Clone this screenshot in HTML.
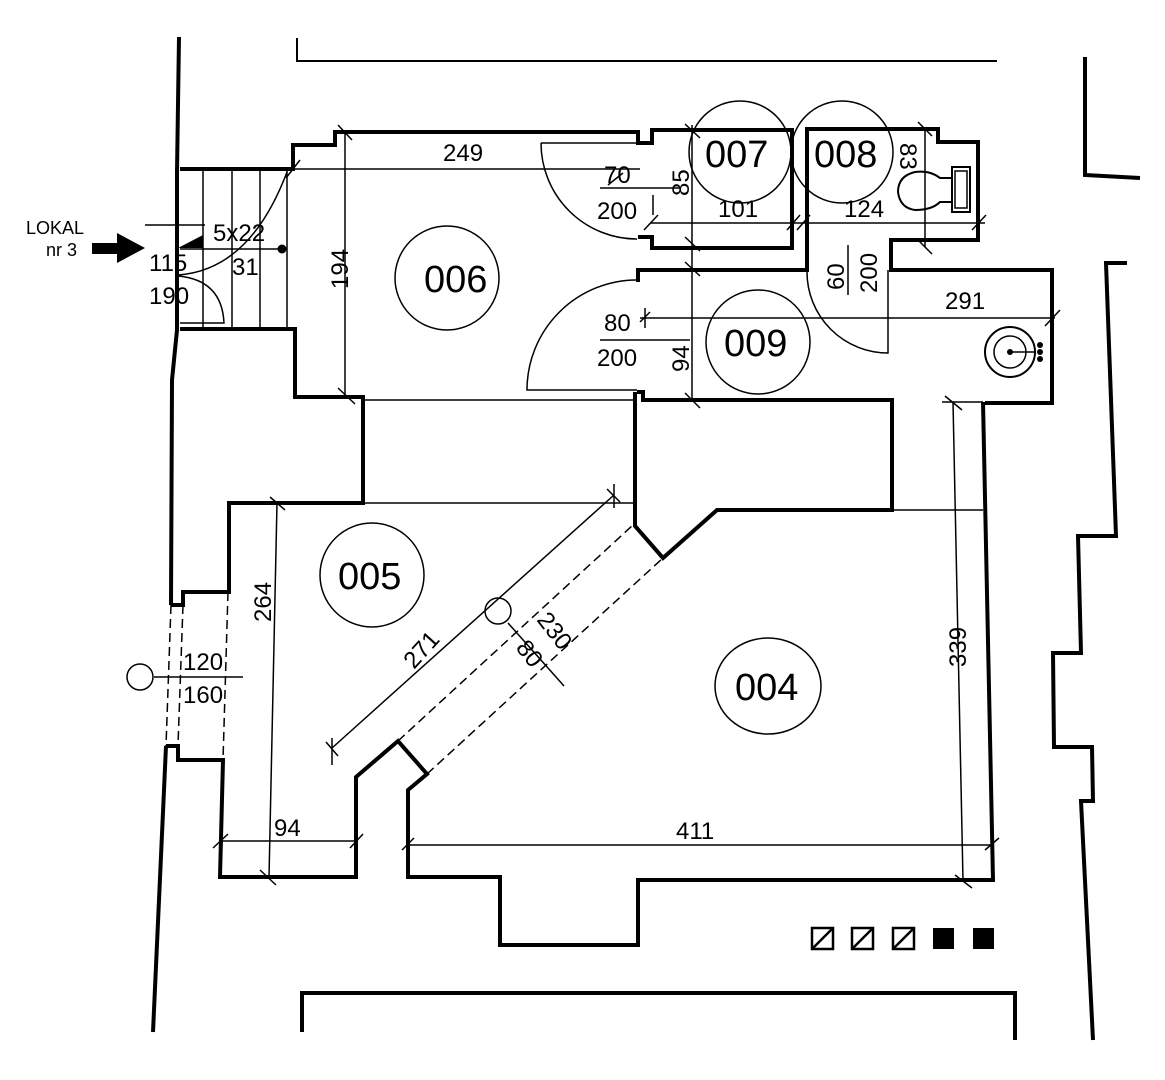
<!DOCTYPE html>
<html><head><meta charset="utf-8"><style>
html,body{margin:0;padding:0;background:#fff;}
svg{display:block;}
text{font-family:"Liberation Sans",sans-serif;fill:#000;}
</style></head><body>
<svg width="1165" height="1080" viewBox="0 0 1165 1080" xmlns="http://www.w3.org/2000/svg">
<g fill="none" stroke="#000" stroke-width="4" stroke-linejoin="miter">
<path d="M179,37 L177,172 L177,330 L172,380 L171,605"/>
<path d="M166,746 L153,1032"/>
<path d="M297,38 V61 H997" stroke-width="2"/>
<path d="M1085,57 V175 L1140,178"/>
<path d="M1127,263 H1106 L1116,536 H1078 L1081,653 H1053 L1054,747 H1092 L1093,801 H1081 L1093,1040"/>
<path d="M302,1032 V993 H1015 V1040"/>
<path d="M180,169 H293 V145 H335 V132 H638 V143 H652 V130 H792 V248 H652 V237 H638"/>
<path d="M180,329 H295 V397 H363 V503 H229 V592 H183 V605 H171"/>
<path d="M638,282 V270 H807 V129 H938 V142 H978 V240 H891 V270 H1052 V403 H985"/>
<path d="M637,392 H643 V400 H892 V510 H717 L663,558 L635,526 V392"/>
<path d="M166,746 H178 V760 H223 L220,877 H356 V777 L398,741 L427,774 L408,790 V877 H500 V945 H638 V880 H993 L983,402"/>
</g>
<g fill="none" stroke="#000" stroke-width="1.5">
<path d="M203,169 V329 M232,169 V329 M260,169 V329 M287,169 V329"/>
<path d="M180,249 H285"/>
<path d="M145,225 H205"/>
<path d="M287,172 Q250,270 178,275"/>
<path d="M178,276 Q222,280 224,323 H180"/>
<path d="M290,169 H640"/>
<path d="M345,130 V397"/>
<path d="M286,178 L300,160 M338,125 L352,140 M338,388 L355,404"/>
<path d="M363,400 H637 M363,503 H637"/>
<path d="M541,143 A96,96 0 0 0 637,239"/>
<path d="M541,143 H637"/>
<path d="M637,280 A110,110 0 0 0 527,390 H637"/>
<path d="M807,272 A81,81 0 0 0 888,353 V270"/>
<path d="M692,125 V400"/>
<path d="M685,124 L700,138 M685,237 L700,251 M685,262 L700,276 M685,393 L700,408"/>
<path d="M650,223 H985"/>
<path d="M644,230 L658,215 M787,230 L800,215 M797,230 L810,215 M972,230 L986,215"/>
<path d="M653,195 V215"/>
<path d="M925,127 V247 M918,122 L932,136 M918,240 L932,254"/>
<path d="M600,188 H680 M600,340 H690 M645,308 V328 M640,322 L650,312 M608,185 L623,173"/>
<path d="M640,318 H1055 M1045,326 L1060,310"/>
<path d="M848,245 V295"/>
<path d="M942,402 H983"/>
<path d="M953,402 L963,880"/>
<path d="M945,396 L962,410 M955,875 L972,888"/>
<path d="M408,845 H993 M402,850 L414,838 M985,850 L999,838"/>
<path d="M277,503 L269,877 M270,497 L285,510 M260,870 L276,885"/>
<path d="M220,841 H356 M213,848 L228,834 M350,848 L363,834"/>
<path d="M893,510 H983"/>
<path d="M332,748 L614,495"/>
<path d="M326,742 L338,756 M332,738 V765 M607,489 L620,502 M614,484 V508"/>
<path d="M508,623 L564,686"/>
<circle cx="498" cy="611" r="13"/>
<path d="M154,677 H243"/>
<circle cx="140" cy="677" r="13"/>
<circle cx="447" cy="278" r="52"/>
<circle cx="740" cy="152" r="51"/>
<circle cx="842" cy="152" r="51"/>
<circle cx="758" cy="342" r="52"/>
<circle cx="372" cy="575" r="52"/>
<ellipse cx="768" cy="686" rx="53" ry="48"/>
<rect x="952" y="167" width="18" height="45" stroke-width="2"/>
<rect x="955" y="171" width="12" height="37"/>
<path d="M952,178 L940,178 Q930,170 915,172 Q898,176 898,192 Q900,208 915,210 Q932,210 940,202 L952,202" stroke-width="2"/>
<circle cx="1010" cy="352" r="25" stroke-width="2"/>
<circle cx="1010" cy="352" r="16"/>
<path d="M1010,352 H1035"/>
</g>
<g fill="none" stroke="#000" stroke-width="1.5" stroke-dasharray="9,5">
<path d="M171,605 L166,746 M183,605 L178,745 M228,592 L223,760"/>
<path d="M398,741 L633,525 M427,774 L663,558"/>
</g>
<g fill="#000">
<circle cx="282" cy="249" r="4.5"/>
<path d="M178,248 L203,235 L203,248 Z"/>
<rect x="92" y="243" width="27" height="11"/>
<path d="M117,233 L145,248 L117,263 Z"/>
<circle cx="1010" cy="352" r="3"/>
<circle cx="1040" cy="345" r="3"/><circle cx="1040" cy="352" r="3"/><circle cx="1040" cy="359" r="3"/>
<rect x="933" y="928" width="21" height="21"/>
<rect x="973" y="928" width="21" height="21"/>
</g>
<g fill="none" stroke="#000" stroke-width="2.5">
<rect x="812" y="928" width="21" height="21"/><path d="M812,949 L833,928"/>
<rect x="852" y="928" width="21" height="21"/><path d="M852,949 L873,928"/>
<rect x="893" y="928" width="21" height="21"/><path d="M893,949 L914,928"/>
</g>
<text x="26" y="234" font-size="18">LOKAL</text>
<text x="46" y="256" font-size="18">nr 3</text>
<text x="213" y="241" font-size="24">5x22</text>
<text x="149" y="271" font-size="24">115</text>
<text x="232" y="275" font-size="24">31</text>
<text x="149" y="304" font-size="24">190</text>
<text x="443" y="161" font-size="24">249</text>
<text x="0" y="0" font-size="24" transform="translate(348,289) rotate(-90)">194</text>
<text x="424" y="292" font-size="38">006</text>
<text x="705" y="167" font-size="38">007</text>
<text x="814" y="167" font-size="38">008</text>
<text x="724" y="356" font-size="38">009</text>
<text x="338" y="589" font-size="38">005</text>
<text x="735" y="700" font-size="38">004</text>
<text x="604" y="183" font-size="24">70</text>
<text x="597" y="219" font-size="24">200</text>
<text x="0" y="0" font-size="24" transform="translate(689,196) rotate(-90)">85</text>
<text x="718" y="217" font-size="24">101</text>
<text x="844" y="217" font-size="24">124</text>
<text x="0" y="0" font-size="24" transform="translate(900,143) rotate(90)">83</text>
<text x="0" y="0" font-size="24" transform="translate(844,290) rotate(-90)">60</text>
<text x="0" y="0" font-size="24" transform="translate(877,293) rotate(-90)">200</text>
<text x="945" y="309" font-size="24">291</text>
<text x="604" y="331" font-size="24">80</text>
<text x="597" y="366" font-size="24">200</text>
<text x="0" y="0" font-size="24" transform="translate(689,372) rotate(-90)">94</text>
<text x="0" y="0" font-size="24" transform="translate(271,622) rotate(-90)">264</text>
<text x="183" y="670" font-size="24">120</text>
<text x="183" y="703" font-size="24">160</text>
<text x="0" y="0" font-size="24" transform="translate(414,670) rotate(-48)">271</text>
<text x="0" y="0" font-size="24" transform="translate(536,620) rotate(52)">230</text>
<text x="0" y="0" font-size="24" transform="translate(515,648) rotate(52)">80</text>
<text x="0" y="0" font-size="24" transform="translate(966,667) rotate(-90)">339</text>
<text x="274" y="836" font-size="24">94</text>
<text x="676" y="839" font-size="24">411</text>
</svg>
</body></html>
